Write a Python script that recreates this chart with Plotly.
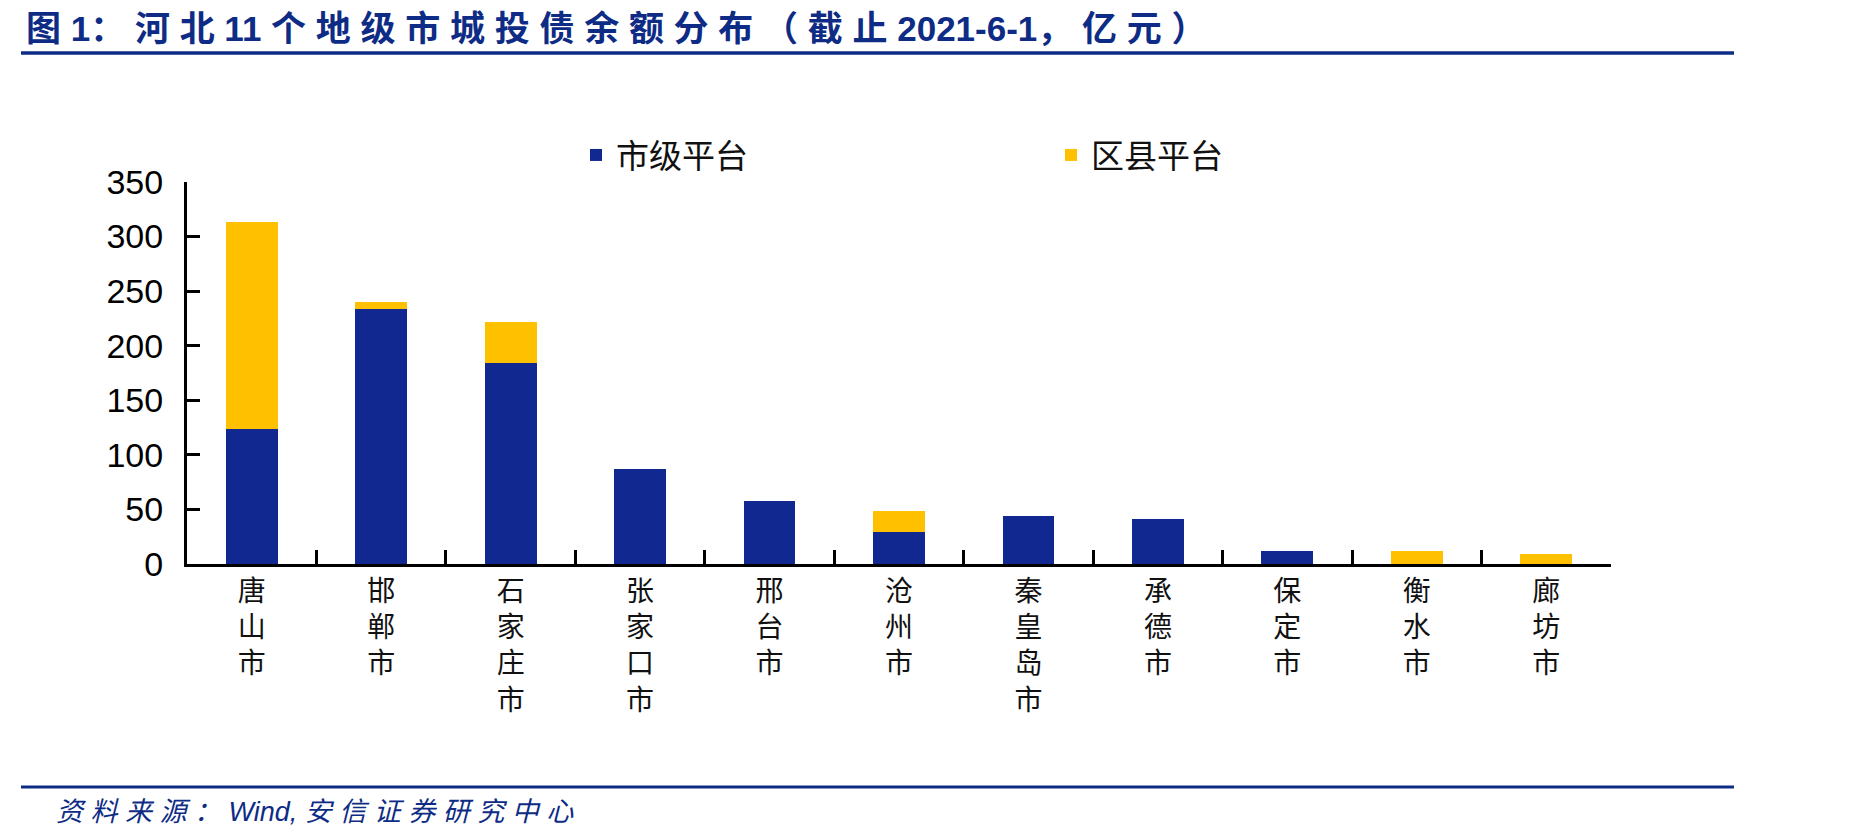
import plotly.graph_objects as go

categories = ["唐山市", "邯郸市", "石家庄市", "张家口市", "邢台市", "沧州市",
              "秦皇岛市", "承德市", "保定市", "衡水市", "廊坊市"]
city_level = [124, 234, 184, 87, 58, 29, 44, 41, 12, 0, 0]
county_level = [189, 6, 38, 0, 0, 20, 0, 0, 0, 12, 9]
series_names = ["市级平台", "区县平台"]
y_ticks = [0, 50, 100, 150, 200, 250, 300, 350]
title_text = "图 1： 河 北 11 个 地 级 市 城 投 债 余 额 分 布 （ 截 止 2021-6-1， 亿 元 ）"
source_text = "资 料 来 源 ： Wind, 安 信 证 券 研 究 中 心"

W, H = 1864, 840
L, R, T, B = 187, 1611, 182, 564  # plot area in pixels
pw, ph = R - L, B - T


def px(x):
    return (x - L) / pw


def py(y):
    return (B - y) / ph


tick_text = ["<br>".join(list(c)) for c in categories]

fig = go.Figure()
fig.add_trace(go.Bar(x=categories, y=city_level, name=series_names[0],
                     marker=dict(color="#10288f", line=dict(width=0))))
fig.add_trace(go.Bar(x=categories, y=county_level, name=series_names[1],
                     marker=dict(color="#ffc000", line=dict(width=0))))

fig.update_layout(
    width=W, height=H,
    barmode="stack", bargap=0.6,
    plot_bgcolor="white", paper_bgcolor="white",
    margin=dict(l=L, r=W - R, t=T, b=H - B, pad=0),
    showlegend=True,
    legend=dict(orientation="h", x=px(576), y=py(155), xanchor="left", yanchor="middle",
                font=dict(family="Noto Sans CJK SC", size=33, color="#111111"),
                entrywidth=430, entrywidthmode="pixels", traceorder="normal",
                bgcolor="rgba(0,0,0,0)"),
    xaxis=dict(
        tickmode="array", tickvals=categories, ticktext=tick_text,
        tickson="boundaries", ticks="inside", ticklen=14, tickwidth=3, tickcolor="black",
        showline=True, linecolor="black", linewidth=3,
        showgrid=False, zeroline=False,
        tickfont=dict(family="Noto Sans CJK SC", size=28, color="#111111"),
        tickangle=0,
    ),
    yaxis=dict(
        range=[0, 350], tickmode="array", tickvals=y_ticks,
        ticks="inside", ticklen=13, tickwidth=3, tickcolor="black",
        showline=True, linecolor="black", linewidth=3,
        showgrid=False, zeroline=False,
        tickfont=dict(family="Liberation Sans, Arial", size=34, color="black"),
        ticklabelstandoff=14,
    ),
    shapes=[
        dict(type="line", xref="paper", yref="paper", x0=px(21), x1=px(1734),
             y0=py(53), y1=py(53), line=dict(color="#0e2c85", width=3.5)),
        dict(type="line", xref="paper", yref="paper", x0=px(21), x1=px(1734),
             y0=py(787), y1=py(787), line=dict(color="#0e2c85", width=3)),
    ],
    annotations=[
        dict(text="<b>" + title_text + "</b>",
             xref="paper", yref="paper", x=px(24), y=py(29),
             xanchor="left", yanchor="middle", showarrow=False,
             font=dict(family="Liberation Sans, Noto Sans CJK SC", size=35, color="#0e2c85")),
        dict(text="<i>" + source_text + "</i>",
             xref="paper", yref="paper", x=px(54), y=py(812),
             xanchor="left", yanchor="middle", showarrow=False,
             font=dict(family="Liberation Sans, Noto Sans CJK SC", size=27, color="#0e2c85")),
    ],
)

fig.write_html("out.html")
